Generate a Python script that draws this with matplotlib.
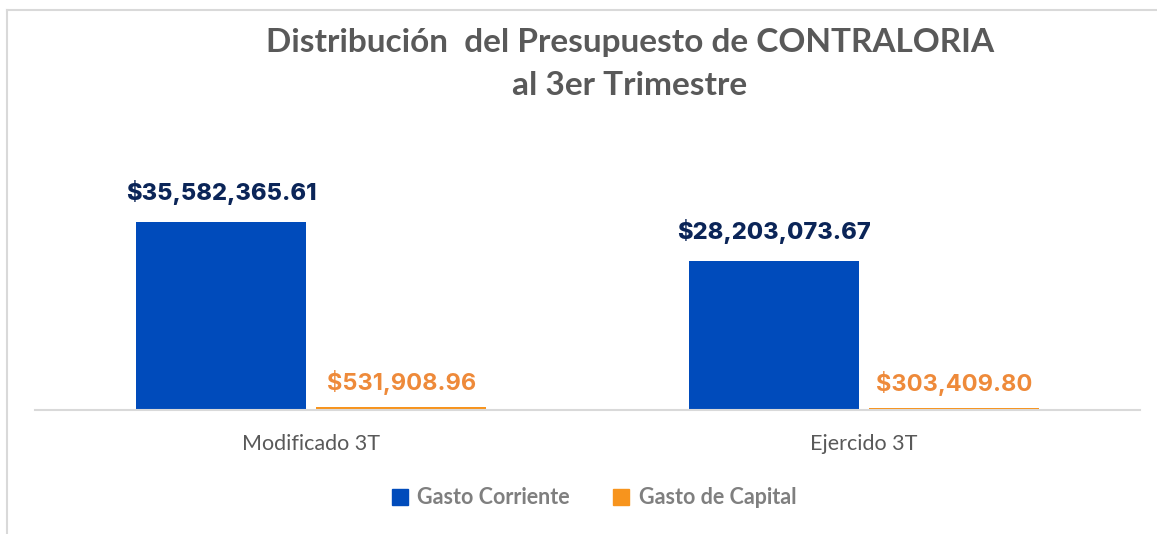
import matplotlib.pyplot as plt
from matplotlib.lines import Line2D
from matplotlib.patches import Patch
import numpy as np

# Data
categories = ['Modificado 3T', 'Ejercido 3T']
gasto_corriente = [35582365.61, 28203073.67]
gasto_capital = [531908.96, 303409.80]
series_names = ['Gasto Corriente', 'Gasto de Capital']

blue = '#004BBB'
orange = '#F7941D'
navy = '#0B2558'
label_orange = '#EE8A3A'
grey_text = '#595959'

W, H = 1157, 534
fig = plt.figure(figsize=(W / 100, H / 100), dpi=100)
ax = fig.add_axes([35 / W, (H - 410) / H, (1140 - 35) / W, 280 / H])

x = np.arange(len(categories))
width = 0.307
off = 0.163

b1 = ax.bar(x - off, gasto_corriente, width, color=blue)
b2 = ax.bar(x + off, gasto_capital, width, color=orange)

ax.set_xlim(-0.5, 1.5)
ax.set_ylim(0, 53e6)

for rect, v in zip(b1, gasto_corriente):
    ax.annotate('${:,.2f}'.format(v), (rect.get_x() + rect.get_width() / 2, v),
                xytext=(0, 12), textcoords='offset points', ha='center', va='bottom',
                fontsize=17, fontweight='heavy', color=navy, family='Inter')
for rect, v in zip(b2, gasto_capital):
    ax.annotate('${:,.2f}'.format(v), (rect.get_x() + rect.get_width() / 2, v),
                xytext=(0, 9), textcoords='offset points', ha='center', va='bottom',
                fontsize=17, fontweight='bold', color=label_orange, family='Inter')

for s in ['top', 'right', 'left']:
    ax.spines[s].set_visible(False)
ax.spines['bottom'].set_color('#D9D9D9')
ax.spines['bottom'].set_linewidth(1.5)
ax.set_yticks([])
ax.set_xticks(x)
ax.set_xticklabels(categories, fontsize=15.5, color=grey_text, family='Lato')
ax.tick_params(axis='x', length=0, pad=17)

fig.text(630 / W, 1 - 64 / H, 'Distribución  del Presupuesto de CONTRALORIA\nal 3er Trimestre',
         ha='center', va='center', fontsize=24, fontweight='bold', color=grey_text,
         family='Lato', linespacing=1.55)

handles = [Patch(color=blue), Patch(color=orange)]
leg = fig.legend(handles, series_names, loc='center', bbox_to_anchor=(594 / W, 1 - 498 / H),
                 ncol=2, frameon=False, handlelength=0.75, handleheight=0.75,
                 columnspacing=2.0, handletextpad=0.45,
                 prop={'family': 'Lato', 'weight': 'bold', 'size': 15.5})
for t in leg.get_texts():
    t.set_color('#7F7F7F')

# chart border (left and top edges only)
fig.add_artist(Line2D([7 / W, 7 / W], [0, 1 - 10 / H], color='#D9D9D9', lw=1.5))
fig.add_artist(Line2D([7 / W, 1], [1 - 10 / H, 1 - 10 / H], color='#D9D9D9', lw=1.5))

fig.savefig('out.png', dpi=100)
